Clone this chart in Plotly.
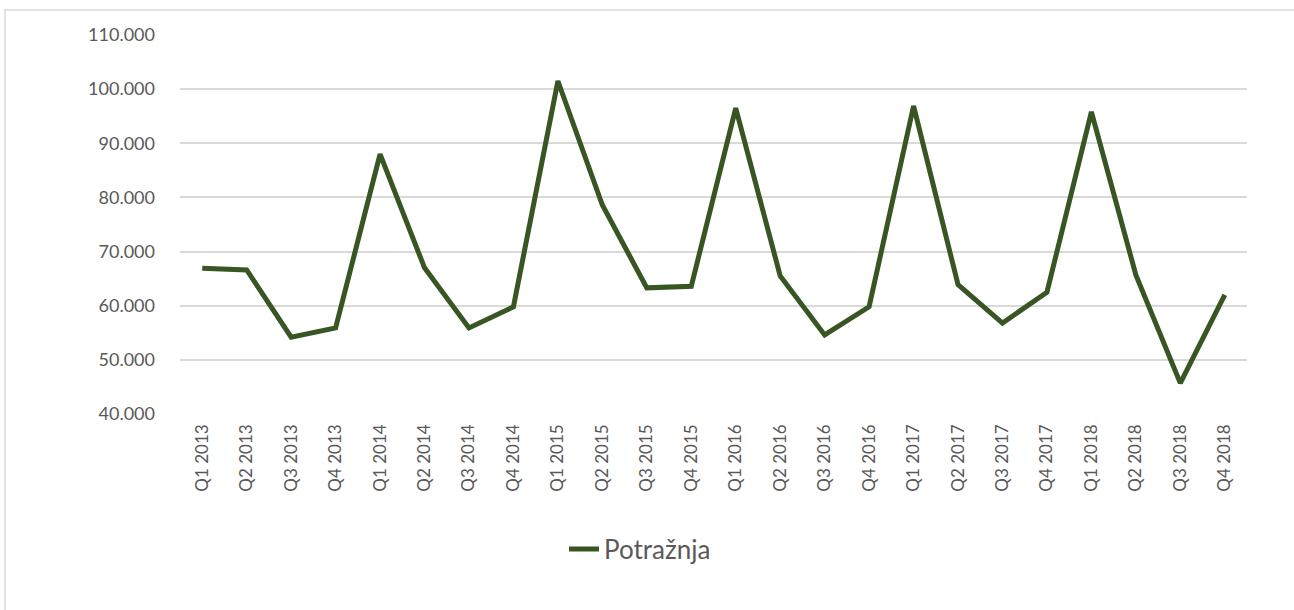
import plotly.graph_objects as go

categories = [f"Q{q} {y}" for y in range(2013, 2019) for q in range(1, 5)]
potraznja = [66900, 66600, 54200, 55900, 88000, 67000, 55900, 59800,
             101500, 78600, 63300, 63600, 96500, 65500, 54600, 59800,
             96900, 63900, 56800, 62500, 95800, 65700, 45700, 62000]
series_name = "Potražnja"
y_ticks = [40000, 50000, 60000, 70000, 80000, 90000, 100000, 110000]

FONT = "Lato"
TEXT = "#595959"
LINE = "#375623"

W, H = 1294, 610
L, R, T, B = 180, 47, 35, 196
PW, PH = W - L - R, H - T - B

fig = go.Figure()
fig.add_trace(go.Scatter(
    x=list(range(len(categories))), y=potraznja, mode="lines", name=series_name,
    line=dict(color=LINE, width=5),
))

fig.update_layout(
    width=W, height=H, autosize=False,
    margin=dict(l=L, r=R, t=T, b=B),
    paper_bgcolor="white", plot_bgcolor="white",
    separators=",.",
    font=dict(family=FONT, color=TEXT, size=18),
    showlegend=True,
    legend=dict(
        orientation="h", x=(640 - L) / PW, xanchor="center",
        y=-(549 - (H - B)) / PH, yanchor="middle",
        font=dict(size=26, color=TEXT), itemwidth=30,
    ),
    xaxis=dict(
        range=[-0.5, len(categories) - 0.5],
        tickvals=list(range(len(categories))), ticktext=categories,
        tickangle=-90, showgrid=False, zeroline=False, showline=False,
        ticks="", ticklabelstandoff=6, tickfont=dict(size=17, color=TEXT),
    ),
    yaxis=dict(
        range=[40000, 110000], tickvals=y_ticks, tickformat=",d",
        showgrid=True, gridcolor="#d9d9d9", gridwidth=1.5,
        zeroline=False, showline=False, ticks="", ticklabelstandoff=24,
        tickfont=dict(size=18, color=TEXT),
    ),
    shapes=[dict(
        type="rect", xref="paper", yref="paper",
        x0=(5 - L) / PW, x1=(W + 10 - L) / PW,
        y0=-(B + 10) / PH, y1=(H - B - 10) / PH,
        line=dict(color="#d9d9d9", width=1.5), layer="below",
    )],
)

fig.write_html("out.html", config={"displayModeBar": False},
               post_script="document.body.style.margin='0';")
